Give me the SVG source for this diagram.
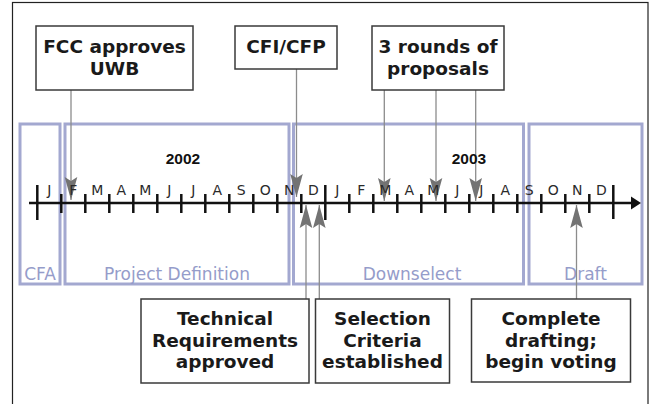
<svg xmlns="http://www.w3.org/2000/svg" width="652" height="404" viewBox="0 0 652 404">
  <defs>
    <style>
      .frame { fill: none; stroke: #222; stroke-width: 1.2; }
      .phase { fill: none; stroke: #a3a8d0; stroke-width: 3; }
      .phase-label { font-family: "DejaVu Sans", sans-serif; font-size: 17px; fill: #959cca; text-anchor: middle; }
      .callout { fill: #fff; stroke: #3a3a3a; stroke-width: 1.5; }
      .callout-text { font-family: "DejaVu Sans", sans-serif; font-weight: bold; font-size: 18.5px; fill: #1a1a1a; text-anchor: middle; }
      .axis { stroke: #111; stroke-width: 2.5; fill: none; }
      .month { font-family: "DejaVu Sans", sans-serif; font-size: 14px; fill: #2a2a2a; text-anchor: middle; }
      .year { font-family: "Liberation Sans", Arial, sans-serif; font-weight: bold; font-size: 15.5px; fill: #111; text-anchor: middle; }
      .link { fill: none; stroke: #8c8c8c; stroke-width: 1.3; marker-end: url(#head); }
    </style>
    <marker id="head" viewBox="-24 -7 25 14" markerWidth="25" markerHeight="14" refX="0" refY="0" markerUnits="userSpaceOnUse" orient="auto">
      <path d="M0,0 L-23,-6.3 L-19,0 L-23,6.3 Z" fill="#737373"/>
    </marker>
  </defs>

  <rect width="652" height="404" fill="#fff"/>
  <rect class="frame" x="12.5" y="2.5" width="635.5" height="420"/>

  <!-- project phases -->
  <g id="phase-cfa">
    <rect class="phase" x="20" y="124" width="40" height="160"/>
    <text class="phase-label" x="40" y="280">CFA</text>
  </g>
  <g id="phase-project-definition">
    <rect class="phase" x="65" y="124" width="224" height="160"/>
    <text class="phase-label" x="177" y="280">Project Definition</text>
  </g>
  <g id="phase-downselect">
    <rect class="phase" x="293.5" y="124" width="230" height="160"/>
    <text class="phase-label" x="412" y="280">Downselect</text>
  </g>
  <g id="phase-draft">
    <rect class="phase" x="529" y="124" width="113" height="160"/>
    <text class="phase-label" x="585.5" y="280">Draft</text>
  </g>

  <!-- connectors from milestone boxes to the timeline -->
  <g id="connectors">
    <path class="link" d="M71,90 V200"/>
    <path class="link" d="M296.5,69 V197"/>
    <path class="link" d="M384.3,90 V201"/>
    <path class="link" d="M436,90 V201"/>
    <path class="link" d="M475.7,90 V201"/>
    <path class="link" d="M306,299 V205"/>
    <path class="link" d="M319.3,299 V205"/>
    <path class="link" d="M576.5,299 V205"/>
  </g>

  <!-- timeline axis -->
  <g id="timeline">
    <line class="axis" x1="29" y1="203" x2="633" y2="203"/>
    <polygon points="631,196.5 641,203 631,209.5" fill="#111"/>
    <!-- year boundaries -->
    <path class="axis" d="M37.3,185 V220 M325.3,185 V220 M613.3,185 V219"/>
    <!-- month boundaries -->
    <path class="axis" d="M61.3,194 V213 M85.3,194 V213 M109.3,194 V213 M133.3,194 V213 M157.3,194 V213 M181.3,194 V213 M205.3,194 V213 M229.3,194 V213 M253.3,194 V213 M277.3,194 V213 M301.3,194 V213 M349.3,194 V213 M373.3,194 V213 M397.3,194 V213 M421.3,194 V213 M445.3,194 V213 M469.3,194 V213 M493.3,194 V213 M517.3,194 V213 M541.3,194 V213 M565.3,194 V213 M589.3,194 V213"/>
    <text class="year" x="183" y="164">2002</text>
    <text class="year" x="469" y="164">2003</text>
    <g class="month">
      <text x="49.3" y="195">J</text>
      <text x="73.3" y="195">F</text>
      <text x="97.3" y="195">M</text>
      <text x="121.3" y="195">A</text>
      <text x="145.3" y="195">M</text>
      <text x="169.3" y="195">J</text>
      <text x="193.3" y="195">J</text>
      <text x="217.3" y="195">A</text>
      <text x="241.3" y="195">S</text>
      <text x="265.3" y="195">O</text>
      <text x="289.3" y="195">N</text>
      <text x="313.3" y="195">D</text>
      <text x="337.3" y="195">J</text>
      <text x="361.3" y="195">F</text>
      <text x="385.3" y="195">M</text>
      <text x="409.3" y="195">A</text>
      <text x="433.3" y="195">M</text>
      <text x="457.3" y="195">J</text>
      <text x="481.3" y="195">J</text>
      <text x="505.3" y="195">A</text>
      <text x="529.3" y="195">S</text>
      <text x="553.3" y="195">O</text>
      <text x="577.3" y="195">N</text>
      <text x="601.3" y="195">D</text>
    </g>
  </g>

  <!-- milestones above the timeline -->
  <g id="fcc-approves-uwb">
    <rect class="callout" x="36" y="26" width="157" height="64"/>
    <text class="callout-text" x="114.5" y="53">FCC approves</text>
    <text class="callout-text" x="114.5" y="75">UWB</text>
  </g>
  <g id="cfi-cfp">
    <rect class="callout" x="235" y="26" width="102" height="43"/>
    <text class="callout-text" x="286" y="53">CFI/CFP</text>
  </g>
  <g id="proposal-rounds">
    <rect class="callout" x="372" y="26" width="132" height="64"/>
    <text class="callout-text" x="438" y="53">3 rounds of</text>
    <text class="callout-text" x="438" y="75">proposals</text>
  </g>

  <!-- milestones below the timeline -->
  <g id="technical-requirements">
    <rect class="callout" x="141" y="299" width="168" height="84"/>
    <text class="callout-text" x="225" y="325">Technical</text>
    <text class="callout-text" x="225" y="346.5">Requirements</text>
    <text class="callout-text" x="225" y="368">approved</text>
  </g>
  <g id="selection-criteria">
    <rect class="callout" x="315.5" y="299" width="134" height="84"/>
    <text class="callout-text" x="382.5" y="325">Selection</text>
    <text class="callout-text" x="382.5" y="346.5">Criteria</text>
    <text class="callout-text" x="382.5" y="368">established</text>
  </g>
  <g id="complete-drafting">
    <rect class="callout" x="471.5" y="299" width="159" height="83"/>
    <text class="callout-text" x="551" y="325">Complete</text>
    <text class="callout-text" x="551" y="346.5">drafting;</text>
    <text class="callout-text" x="551" y="368">begin voting</text>
  </g>
</svg>
